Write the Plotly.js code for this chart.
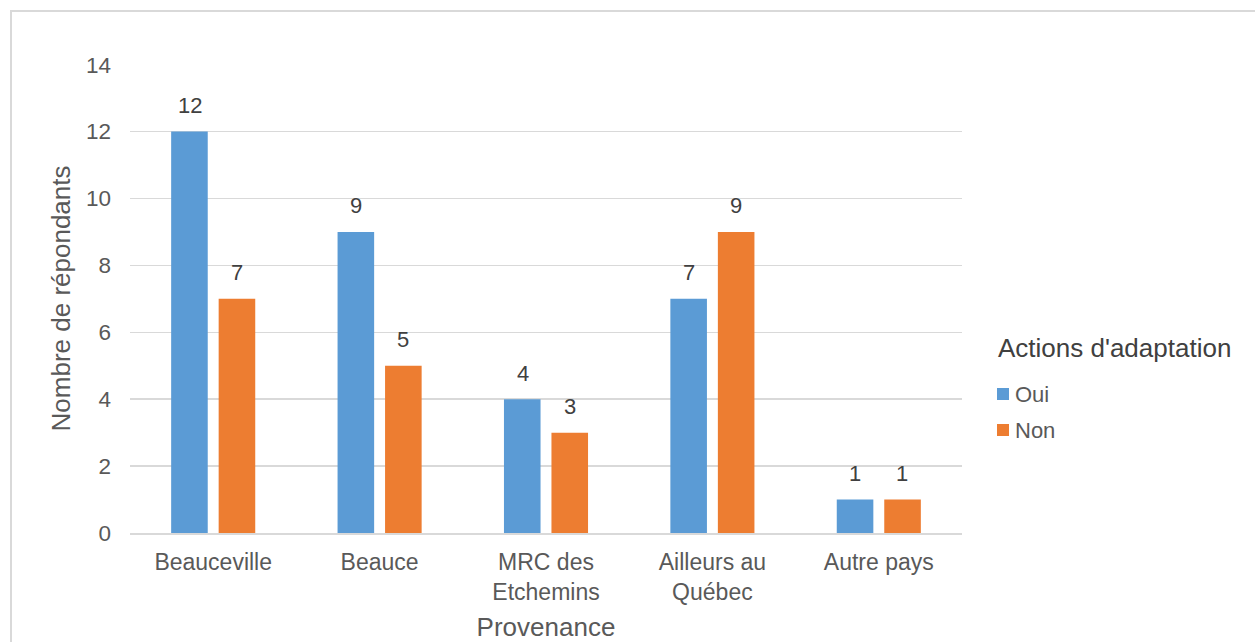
<!DOCTYPE html>
<html><head><meta charset="utf-8">
<script src="https://cdn.plot.ly/plotly-3.0.1.min.js"></script>
<style>
html,body{margin:0;padding:0;background:#fff;overflow:hidden;}
#chart{width:1255px;height:642px;}
#frame{position:absolute;left:10px;top:10px;width:1300px;height:700px;border:2px solid #d9d9d9;pointer-events:none;}
</style></head>
<body>
<div id="chart"></div>
<div id="frame"></div>
<script>
const categories = ["Beauceville", "Beauce", "MRC des<br>Etchemins", "Ailleurs au<br>Québec", "Autre pays"];
const oui = [12, 9, 4, 7, 1];
const non = [7, 5, 3, 9, 1];
const seriesNames = ["Oui", "Non"];
const legendTitle = "Actions d'adaptation";
const yTicks = [0, 2, 4, 6, 8, 10, 12, 14];

const font = "Liberation Sans, Arial, sans-serif";
const colors = ["#5B9BD5", "#ED7D31"];
const traces = [
  {type:"bar", name:seriesNames[0], x:categories, y:oui, marker:{color:colors[0]}, showlegend:false},
  {type:"bar", name:seriesNames[1], x:categories, y:non, marker:{color:colors[1]}, showlegend:false}
];
const annotations = [];
[oui, non].forEach((vals, si) => {
  vals.forEach((v, i) => {
    annotations.push({xref:"x", yref:"y", x:categories[i], y:v, text:String(v),
      showarrow:false, xanchor:"center", yanchor:"middle",
      xshift: si === 0 ? -23.5 : 23.5, yshift:26,
      font:{size:22, color:"#404040", family:font}});
  });
});
// manual legend (paper coords of plot area: l=130, w=832, t=64, h=469)
const L = 130, W = 832, T = 64, H = 469;
const px = x => (x - L) / W;
const py = y => (T + H - y) / H;
annotations.push({xref:"paper", yref:"paper", x:px(996), y:py(348), xanchor:"left", yanchor:"middle",
  text:legendTitle, showarrow:false, font:{size:26, color:"#404040", family:font}});
const shapes = [];
const itemY = [394, 430];
seriesNames.forEach((n, k) => {
  shapes.push({type:"rect", xref:"paper", yref:"paper", x0:px(997), x1:px(1009),
    y0:py(itemY[k] - 6), y1:py(itemY[k] + 6), fillcolor:colors[k], line:{width:0}});
  annotations.push({xref:"paper", yref:"paper", x:px(1013), y:py(itemY[k]), xanchor:"left", yanchor:"middle",
    text:n, showarrow:false, font:{size:22, color:"#595959", family:font}});
});
const layout = {
  width:1255, height:642,
  margin:{l:130, r:293, t:64, b:109},
  paper_bgcolor:"#fff", plot_bgcolor:"#fff",
  font:{family:font, color:"#595959", size:22},
  barmode:"group", bargap:0.429, bargroupgap:0.23,
  annotations: annotations, shapes: shapes,
  xaxis:{showgrid:false, showline:true, linecolor:"#d9d9d9", linewidth:2, ticks:"",
         tickfont:{size:23, color:"#595959"}, ticklabelstandoff:7,
         title:{text:"Provenance", font:{size:26, color:"#595959"}, standoff:14}},
  yaxis:{range:[0,14.02], tickvals:yTicks, showgrid:true, gridcolor:"#d9d9d9", gridwidth:1.5,
         zeroline:false, showline:false, ticks:"", ticklabelstandoff:18,
         tickfont:{size:22.5, color:"#595959"},
         title:{text:"Nombre de répondants", font:{size:26, color:"#595959"}, standoff:7}},
  showlegend:false
};
Plotly.newPlot("chart", traces, layout, {displayModeBar:false, staticPlot:true});
</script>
</body></html>
